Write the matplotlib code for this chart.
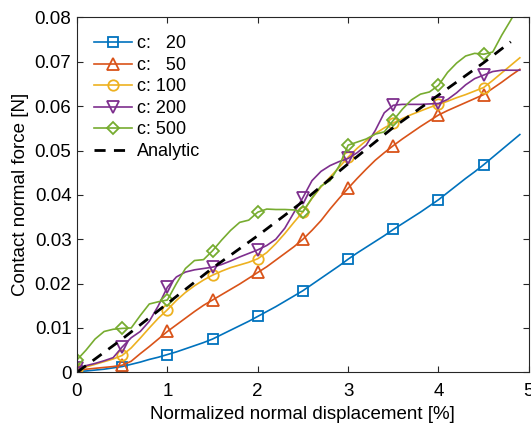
import numpy as np
import matplotlib
matplotlib.use("Agg")
import matplotlib.pyplot as plt

plt.rcParams['font.family'] = ['Liberation Sans', 'DejaVu Sans']

# normalized displacement [%], sampled every 0.1
disp = np.round(np.linspace(0.0, 4.9, 50), 1)

force_c20 = [0.0002, 0.0003, 0.0005, 0.0007, 0.0010,
             0.0013, 0.0018, 0.0023, 0.0029, 0.0034,
             0.0040, 0.0046, 0.0053, 0.0060, 0.0067,
             0.0075, 0.0085, 0.0095, 0.0105, 0.0115,
             0.0126, 0.0137, 0.0148, 0.0160, 0.0172,
             0.0184, 0.0198, 0.0212, 0.0226, 0.0240,
             0.0255, 0.0269, 0.0282, 0.0295, 0.0308,
             0.0322, 0.0335, 0.0348, 0.0361, 0.0375,
             0.0389, 0.0405, 0.0421, 0.0437, 0.0452,
             0.0468, 0.0485, 0.0502, 0.0519, 0.0536]

force_c50 = [0.0005, 0.0007, 0.0009, 0.0011, 0.0013,
             0.0016, 0.0025, 0.0042, 0.0058, 0.0075,
             0.0092, 0.0107, 0.0122, 0.0137, 0.0151,
             0.0163, 0.0175, 0.0187, 0.0199, 0.0212,
             0.0225, 0.0238, 0.0253, 0.0268, 0.0283,
             0.0300, 0.0320, 0.0342, 0.0368, 0.0392,
             0.0415, 0.0437, 0.0458, 0.0478, 0.0495,
             0.0511, 0.0526, 0.0540, 0.0554, 0.0567,
             0.0580, 0.0590, 0.0599, 0.0608, 0.0617,
             0.0626, 0.0640, 0.0654, 0.0669, 0.0683]

force_c100 = [0.0008, 0.0012, 0.0018, 0.0024, 0.0030,
              0.0038, 0.0055, 0.0077, 0.0100, 0.0122,
              0.0141, 0.0162, 0.0180, 0.0195, 0.0208,
              0.0219, 0.0228, 0.0236, 0.0242, 0.0248,
              0.0256, 0.0270, 0.0290, 0.0313, 0.0338,
              0.0362, 0.0392, 0.0418, 0.0440, 0.0462,
              0.0485, 0.0505, 0.0522, 0.0538, 0.0551,
              0.0562, 0.0572, 0.0581, 0.0589, 0.0597,
              0.0604, 0.0611, 0.0619, 0.0626, 0.0634,
              0.0642, 0.0658, 0.0675, 0.0692, 0.0709]

force_c200 = [0.0010, 0.0015, 0.0020, 0.0026, 0.0033,
              0.0057, 0.0078, 0.0092, 0.0115, 0.0150,
              0.0192, 0.0215, 0.0226, 0.0231, 0.0234,
              0.0237, 0.0243, 0.0251, 0.0260, 0.0268,
              0.0276, 0.0286, 0.0300, 0.0325, 0.0360,
              0.0394, 0.0432, 0.0453, 0.0466, 0.0475,
              0.0482, 0.0495, 0.0512, 0.0545, 0.0585,
              0.0602, 0.0604, 0.0604, 0.0604, 0.0605,
              0.0606, 0.0615, 0.0630, 0.0648, 0.0662,
              0.0670, 0.0678, 0.0681, 0.0681, 0.0681]

force_c500 = [0.0028, 0.0050, 0.0075, 0.0092, 0.0097,
              0.0099, 0.0100, 0.0128, 0.0154, 0.0159,
              0.0163, 0.0200, 0.0234, 0.0252, 0.0254,
              0.0274, 0.0298, 0.0320, 0.0338, 0.0343,
              0.0361, 0.0368, 0.0367, 0.0367, 0.0366,
              0.0362, 0.0393, 0.0420, 0.0432, 0.0465,
              0.0512, 0.0519, 0.0526, 0.0537, 0.0542,
              0.0568, 0.0593, 0.0614, 0.0627, 0.0632,
              0.0647, 0.0676, 0.0697, 0.0713, 0.0719,
              0.0717, 0.0722, 0.0760, 0.0794, 0.0830]

analytic_disp = [0.0, 0.5, 1.0, 1.5, 2.0, 2.5, 3.0, 3.5, 4.0, 4.5, 4.8]
analytic_force = [0.0, 0.0075, 0.0155, 0.0235, 0.0308, 0.0385,
                  0.0470, 0.0552, 0.0625, 0.0698, 0.0745]

series_labels = ['c:   20', 'c:   50', 'c: 100', 'c: 200', 'c: 500']
series_colors = ['#0072BD', '#D95319', '#EDB120', '#7E2F8E', '#77AC30']
series_markers = ['s', '^', 'o', 'v', 'D']
series_msize = [6.5, 8.5, 7.5, 8.5, 6.5]

y_ticks = [0, 0.01, 0.02, 0.03, 0.04, 0.05, 0.06, 0.07, 0.08]
y_tick_labels = ['0', '0.01', '0.02', '0.03', '0.04', '0.05', '0.06', '0.07', '0.08']

fig = plt.figure(figsize=(5.31, 4.25), dpi=100)
ax = fig.add_axes([0.145, 0.124, 0.851, 0.835])

all_forces = [force_c20, force_c50, force_c100, force_c200, force_c500]
for f, lab, col, mk, ms in zip(all_forces, series_labels, series_colors,
                               series_markers, series_msize):
    ax.plot(disp, f, color=col, lw=1.2, marker=mk, markevery=5,
            markersize=ms, markerfacecolor='none', markeredgewidth=1.3,
            label=lab)

ax.plot(analytic_disp, analytic_force, color='black', lw=2.0,
        linestyle=(0, (4, 3)), label='Analytic')

ax.set_xlim(0, 5)
ax.set_ylim(0, 0.08)
ax.set_xticks([0, 1, 2, 3, 4, 5])
ax.set_yticks(y_ticks)
ax.set_yticklabels(y_tick_labels)

for side in ['left', 'right', 'top', 'bottom']:
    ax.spines[side].set_color('#262626')
    ax.spines[side].set_linewidth(0.8)
ax.tick_params(direction='in', top=True, right=True, length=4, width=0.8,
               labelsize=13.5, colors='#262626', labelcolor='black', pad=4)
ax.tick_params(axis='x', pad=8)

ax.set_xlabel('Normalized normal displacement [%]', fontsize=13.5, labelpad=4)
ax.set_ylabel('Contact normal force [N]', fontsize=13.5, labelpad=4)

ax.legend(loc='upper left', bbox_to_anchor=(0.01, 0.985), frameon=False,
          fontsize=13, handlelength=2.1, handletextpad=0.25, labelspacing=0.25,
          borderaxespad=0.3)

fig.savefig('out.png', dpi=100)
